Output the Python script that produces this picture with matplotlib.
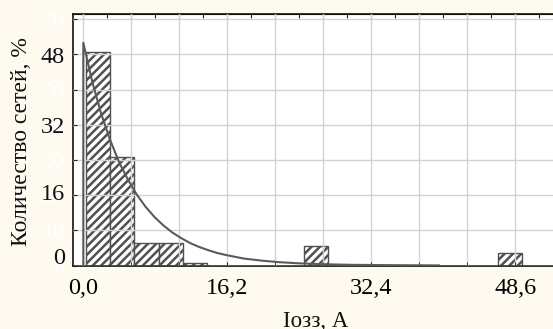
import matplotlib
matplotlib.use("Agg")
import matplotlib.pyplot as plt
import matplotlib.transforms as mtransforms
import numpy as np

plt.rcParams["font.family"] = ["Liberation Serif", "DejaVu Serif"]
plt.rcParams["hatch.linewidth"] = 1.8

# histogram bins (left edges), width and heights
bin_left = [0.3, 3.03, 5.75, 8.48, 11.2, 24.83, 46.63]
bin_width = 2.725
bin_height = [60.8, 30.8, 6.3, 6.3, 0.7, 5.6, 3.6]

# fitted curve
curve_x = [0, 0, 1, 2, 3, 4, 5, 6, 7, 8, 9, 10, 11, 12, 13, 14, 15, 16,
           18, 20, 22, 24, 26, 28, 30, 34, 40]
curve_y = [0, 63.3, 52.3, 43.2, 35.8, 29.5, 24.5, 20.2, 16.7, 13.8, 11.4,
           9.4, 7.8, 6.4, 5.3, 4.4, 3.6, 3.0, 2.0, 1.4, 0.95, 0.65, 0.45,
           0.3, 0.2, 0.1, 0.03]

x_ticks = [0, 16.2, 32.4, 48.6]
x_tick_labels = ["0,0", "16,2", "32,4", "48,6"]
y_ticks = [0, 10, 20, 30, 40, 50, 60, 70]
# overlaid labels and their positions on the axis
y_over_labels = ["48", "32", "16", "0"]
y_over_pos = [59.0, 39.1, 20.3, 2.1]

BG = "#fffaf0"

fig = plt.figure(figsize=(5.53, 3.29), dpi=100, facecolor=BG)
ax = fig.add_axes([73 / 553, 1 - 265.5 / 329, (559 - 73) / 553, (265.5 - 14) / 329])
ax.set_facecolor("white")

ax.bar(bin_left, bin_height, width=bin_width, align="edge",
       color="white", edgecolor="#505050", hatch="////", linewidth=1.0, zorder=1)
ax.plot(curve_x, curve_y, color="#5a5a5a", linewidth=1.5, zorder=3)

ax.set_xlim(-1.16, 53.5)
ax.set_ylim(0, 71.5)

ax.set_xticks(x_ticks)
ax.set_xticklabels(x_tick_labels, fontsize=17.5)
ax.set_xticks(np.arange(0, 54, 5.4), minor=True)
ax.set_yticks(y_ticks)
ax.set_yticklabels([str(v) for v in y_ticks], fontsize=16, color="white")

ax.tick_params(axis="x", which="both", direction="in", length=3, pad=9, color="#222")
ax.tick_params(axis="y", direction="in", length=3, pad=6, color="#222")

ax.grid(True, which="both", axis="x", color="#d2d2d2", linewidth=1.0, zorder=2)
ax.grid(True, axis="y", color="#d2d2d2", linewidth=1.0, zorder=2)
ax.set_axisbelow(False)

for s in ["top", "left", "bottom"]:
    ax.spines[s].set_color("#111")
    ax.spines[s].set_linewidth(1.2)
ax.spines["right"].set_visible(False)

top = ax.secondary_xaxis("top")
top.set_xticks(np.arange(0, 54, 2.7))
top.set_xticklabels([])
top.tick_params(direction="in", length=3, color="#222")

trans = mtransforms.blended_transform_factory(ax.transAxes, ax.transData)
for lab, pos in zip(y_over_labels, y_over_pos):
    ax.text(-0.0165, pos, lab, transform=trans, ha="right", va="center",
            fontsize=17.5, color="#111", zorder=5)

fig.text(22 / 553, 1 - 141.5 / 329, "Количество сетей, %", rotation=90,
         ha="center", va="center", fontsize=17, color="#111")
fig.text(316 / 553, 1.6 / 329, "Iозз, А", ha="center", va="baseline",
         fontsize=16.5, color="#111")

fig.savefig("out.png", dpi=100, facecolor=BG)
